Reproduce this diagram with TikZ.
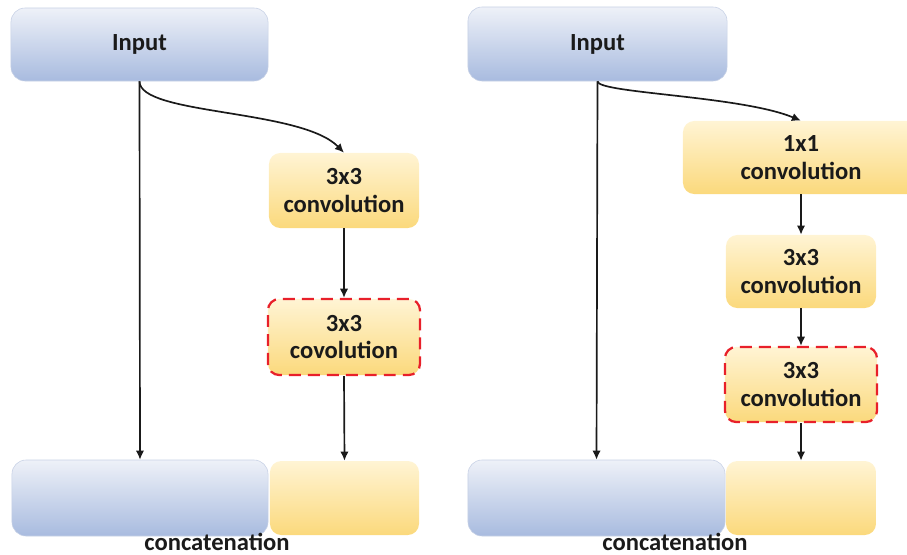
\documentclass[tikz,border=0pt]{standalone}
\usepackage{fontspec}
\setmainfont{Carlito}
\usepackage{tikz}
\usetikzlibrary{arrows.meta}
\definecolor{bluetop}{HTML}{EEF1F8}
\definecolor{bluebot}{HTML}{A8BBDF}
\definecolor{blueedge}{HTML}{C7D1E5}
\definecolor{yeltop}{HTML}{FFF4D4}
\definecolor{yelbot}{HTML}{FBD97C}
\definecolor{dashred}{HTML}{E8202A}
\definecolor{ink}{HTML}{1A1A1A}
\tikzstyle{inbox} = [rectangle, rounded corners=10pt, draw=blueedge, thin,
    top color=bluetop, bottom color=bluebot, text=ink,
    font=\fontsize{17.5}{19.5}\selectfont\bfseries, inner sep=0pt]
\tikzstyle{convbox} = [rectangle, rounded corners=8pt,
    top color=yeltop, bottom color=yelbot, text=ink, align=center,
    font=\fontsize{17.5}{19.5}\selectfont\bfseries, inner sep=0pt]
\tikzstyle{keptbox} = [convbox, draw=dashred, line width=1.6pt,
    dash pattern=on 8.5pt off 5pt]
\tikzstyle{flow} = [draw=ink, line width=1.2pt, -{Latex[length=6.5pt,width=6pt]}]
\tikzstyle{caption} = [text=ink, font=\fontsize{17.5}{19.5}\selectfont\bfseries,
    anchor=base, inner sep=0pt]

\begin{document}
\begin{tikzpicture}[x=0.025cm, y=-0.025cm]
    \useasboundingbox (0,0) rectangle (907,554);

    % left block
    \node [inbox, minimum width=6.425cm, minimum height=1.825cm] (in1) at (139.5,44.5) {Input};
    \node [convbox, minimum width=3.75cm, minimum height=1.875cm] (c1) at (344,190.5) {3x3\\convolution};
    \node [keptbox, minimum width=3.8cm, minimum height=1.9cm] (d1) at (344,337) {3x3\\covolution};
    \node [inbox, minimum width=6.4cm, minimum height=1.9cm] (b1) at (140,498) {};
    \node [convbox, minimum width=3.725cm, minimum height=1.85cm] (y1) at (344.5,498) {};
    \node [caption] (cat1) at (217,550) {concatenation};

    \draw [flow] (in1.south) -- (b1.north);
    \draw [flow] (in1.south) .. controls +(0,34) and +(-43,-44) .. (c1.north);
    \draw [flow] (c1.south) -- (d1.north);
    \draw [flow] (d1.south) -- (y1.north);

    % right block
    \node [inbox, minimum width=6.475cm, minimum height=1.85cm] (in2) at (597.5,44) {Input};
    \node [convbox, minimum width=5.9cm, minimum height=1.825cm] (p2) at (801,157.5) {1x1\\convolution};
    \node [convbox, minimum width=3.75cm, minimum height=1.825cm] (c2) at (801,271.5) {3x3\\convolution};
    \node [keptbox, minimum width=3.8cm, minimum height=1.875cm] (d2) at (801,384.5) {3x3\\convolution};
    \node [inbox, minimum width=6.425cm, minimum height=1.9cm] (b2) at (596.5,498) {};
    \node [convbox, minimum width=3.75cm, minimum height=1.85cm] (y2) at (801,498) {};
    \node [caption] (cat2) at (675,550) {concatenation};

    \draw [flow] (in2.south) -- (b2.north);
    \draw [flow] (in2.south) .. controls +(0,12) and +(-60,-25) .. (p2.north);
    \draw [flow] (p2.south) -- (c2.north);
    \draw [flow] (c2.south) -- (d2.north);
    \draw [flow] (d2.south) -- (y2.north);
\end{tikzpicture}
\end{document}
